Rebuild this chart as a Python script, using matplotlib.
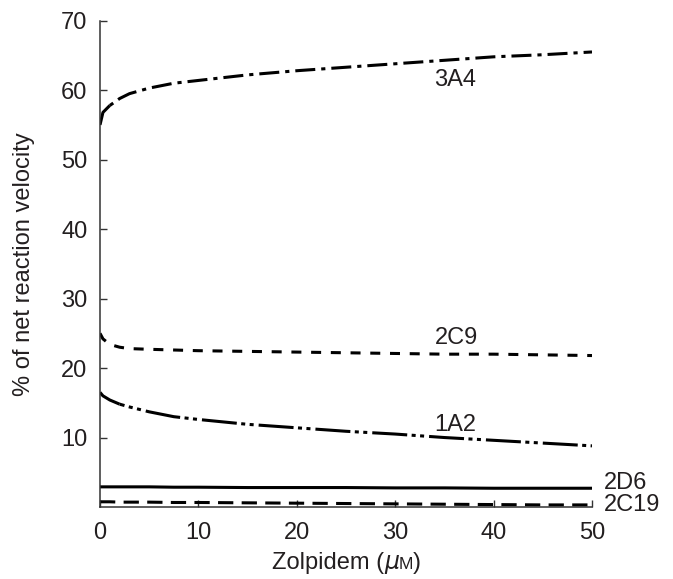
import matplotlib
matplotlib.use("Agg")
import matplotlib.pyplot as plt
from matplotlib.offsetbox import TextArea, HPacker, AnchoredOffsetbox

plt.rcParams['font.family'] = ['Liberation Sans', 'DejaVu Sans']
plt.rcParams['lines.scale_dashes'] = False

# Data
conc = [0, 0.3, 1, 2, 3, 5, 7.5, 10, 15, 20, 25, 30, 35, 40, 45, 50]
cyp3a4 = [55.0, 56.8, 57.8, 58.8, 59.5, 60.3, 61.0, 61.4, 62.2, 62.8, 63.3, 63.8, 64.3, 64.8, 65.1, 65.5]
cyp2c9 = [25.0, 24.2, 23.4, 23.0, 22.8, 22.7, 22.6, 22.5, 22.4, 22.3, 22.2, 22.1, 22.0, 22.0, 21.9, 21.8]
cyp1a2 = [16.5, 16.0, 15.4, 14.8, 14.4, 13.7, 13.0, 12.6, 11.9, 11.4, 10.9, 10.5, 10.0, 9.6, 9.2, 8.8]
cyp2d6 = [2.9, 2.9, 2.9, 2.9, 2.9, 2.9, 2.85, 2.85, 2.8, 2.8, 2.8, 2.75, 2.75, 2.7, 2.7, 2.7]
cyp2c19 = [0.75, 0.75, 0.75, 0.7, 0.7, 0.7, 0.65, 0.65, 0.6, 0.55, 0.5, 0.45, 0.4, 0.35, 0.3, 0.3]

labels = ['3A4', '2C9', '1A2', '2D6', '2C19']
label_pos = [(36.1, 61.5), (36.2, 24.3), (36.1, 11.8), (51.2, 3.4), (51.2, 0.3)]
xticks = [0, 10, 20, 30, 40, 50]
yticks = [10, 20, 30, 40, 50, 60, 70]

TXT = '#231f20'
LW = 2.2
FS = 17

fig = plt.figure(figsize=(6.73, 5.79), dpi=100)
ax = fig.add_axes([100/673, 72/579, 492/673, 486.3/579])

# 3A4: solid start then dash-dot
n_solid = 3
ax.plot(conc[:n_solid], cyp3a4[:n_solid], color='black', lw=LW, solid_capstyle='butt')
ax.plot(conc[n_solid-1:], cyp3a4[n_solid-1:], color='black', lw=LW,
        dashes=(3, 4.3, 14.4, 4.3), dash_capstyle='butt')
# 2C9 dashed
ax.plot(conc, cyp2c9, color='black', lw=LW, dashes=(7.2, 7.0), dash_capstyle='butt')
# 1A2 dash-dot-dot, solid start
n1 = 4
ax.plot(conc[:n1], cyp1a2[:n1], color='black', lw=LW, solid_capstyle='butt')
ax.plot(conc[n1-1:], cyp1a2[n1-1:], color='black', lw=LW,
        dashes=(3.6, 3.2, 2.9, 3.2, 2.9, 3.6, 21.6, 0.0), dash_capstyle='butt')
# 2D6 solid
ax.plot(conc, cyp2d6, color='black', lw=LW, solid_capstyle='butt')
# 2C19 dashed
ax.plot(conc, cyp2c19, color='black', lw=LW, dashes=(11, 6), dash_capstyle='butt')

for lab, (lx, ly) in zip(labels, label_pos):
    ha = 'left' if lx > 50 else 'center'
    ax.text(lx, ly, lab, fontsize=FS, color=TXT, ha=ha, va='center', clip_on=False)

ax.set_xlim(0, 50)
ax.set_ylim(0, 70)
ax.set_xticks(xticks)
ax.set_yticks(yticks)
for s in ['top', 'right']:
    ax.spines[s].set_visible(False)
for s in ['left', 'bottom']:
    ax.spines[s].set_linewidth(1.1)
    ax.spines[s].set_color('#333333')
ax.tick_params(axis='both', direction='in', length=5, width=1.0, colors='#333333',
               labelsize=FS, labelcolor=TXT)
ax.tick_params(axis='y', pad=9)
ax.tick_params(axis='x', pad=11)

ax.set_ylabel('% of net reaction velocity', fontsize=FS, color=TXT)
ax.yaxis.set_label_coords(-0.132, 0.5)

# x label with italic mu and small-caps M
parts = [
    TextArea('Zolpidem (', textprops=dict(fontsize=FS, color=TXT)),
    TextArea('\u03bc', textprops=dict(fontsize=FS, color=TXT, style='italic', family='DejaVu Sans')),
    TextArea('M', textprops=dict(fontsize=12.5, color=TXT)),
    TextArea(')', textprops=dict(fontsize=FS, color=TXT)),
]
box = HPacker(children=parts, align='baseline', pad=0, sep=0)
anch = AnchoredOffsetbox(loc='center', child=box, frameon=False,
                         bbox_to_anchor=(346.5/673, (579-561.7)/579),
                         bbox_transform=fig.transFigure, borderpad=0, pad=0)
fig.add_artist(anch)

fig.savefig('out.png', dpi=100)
